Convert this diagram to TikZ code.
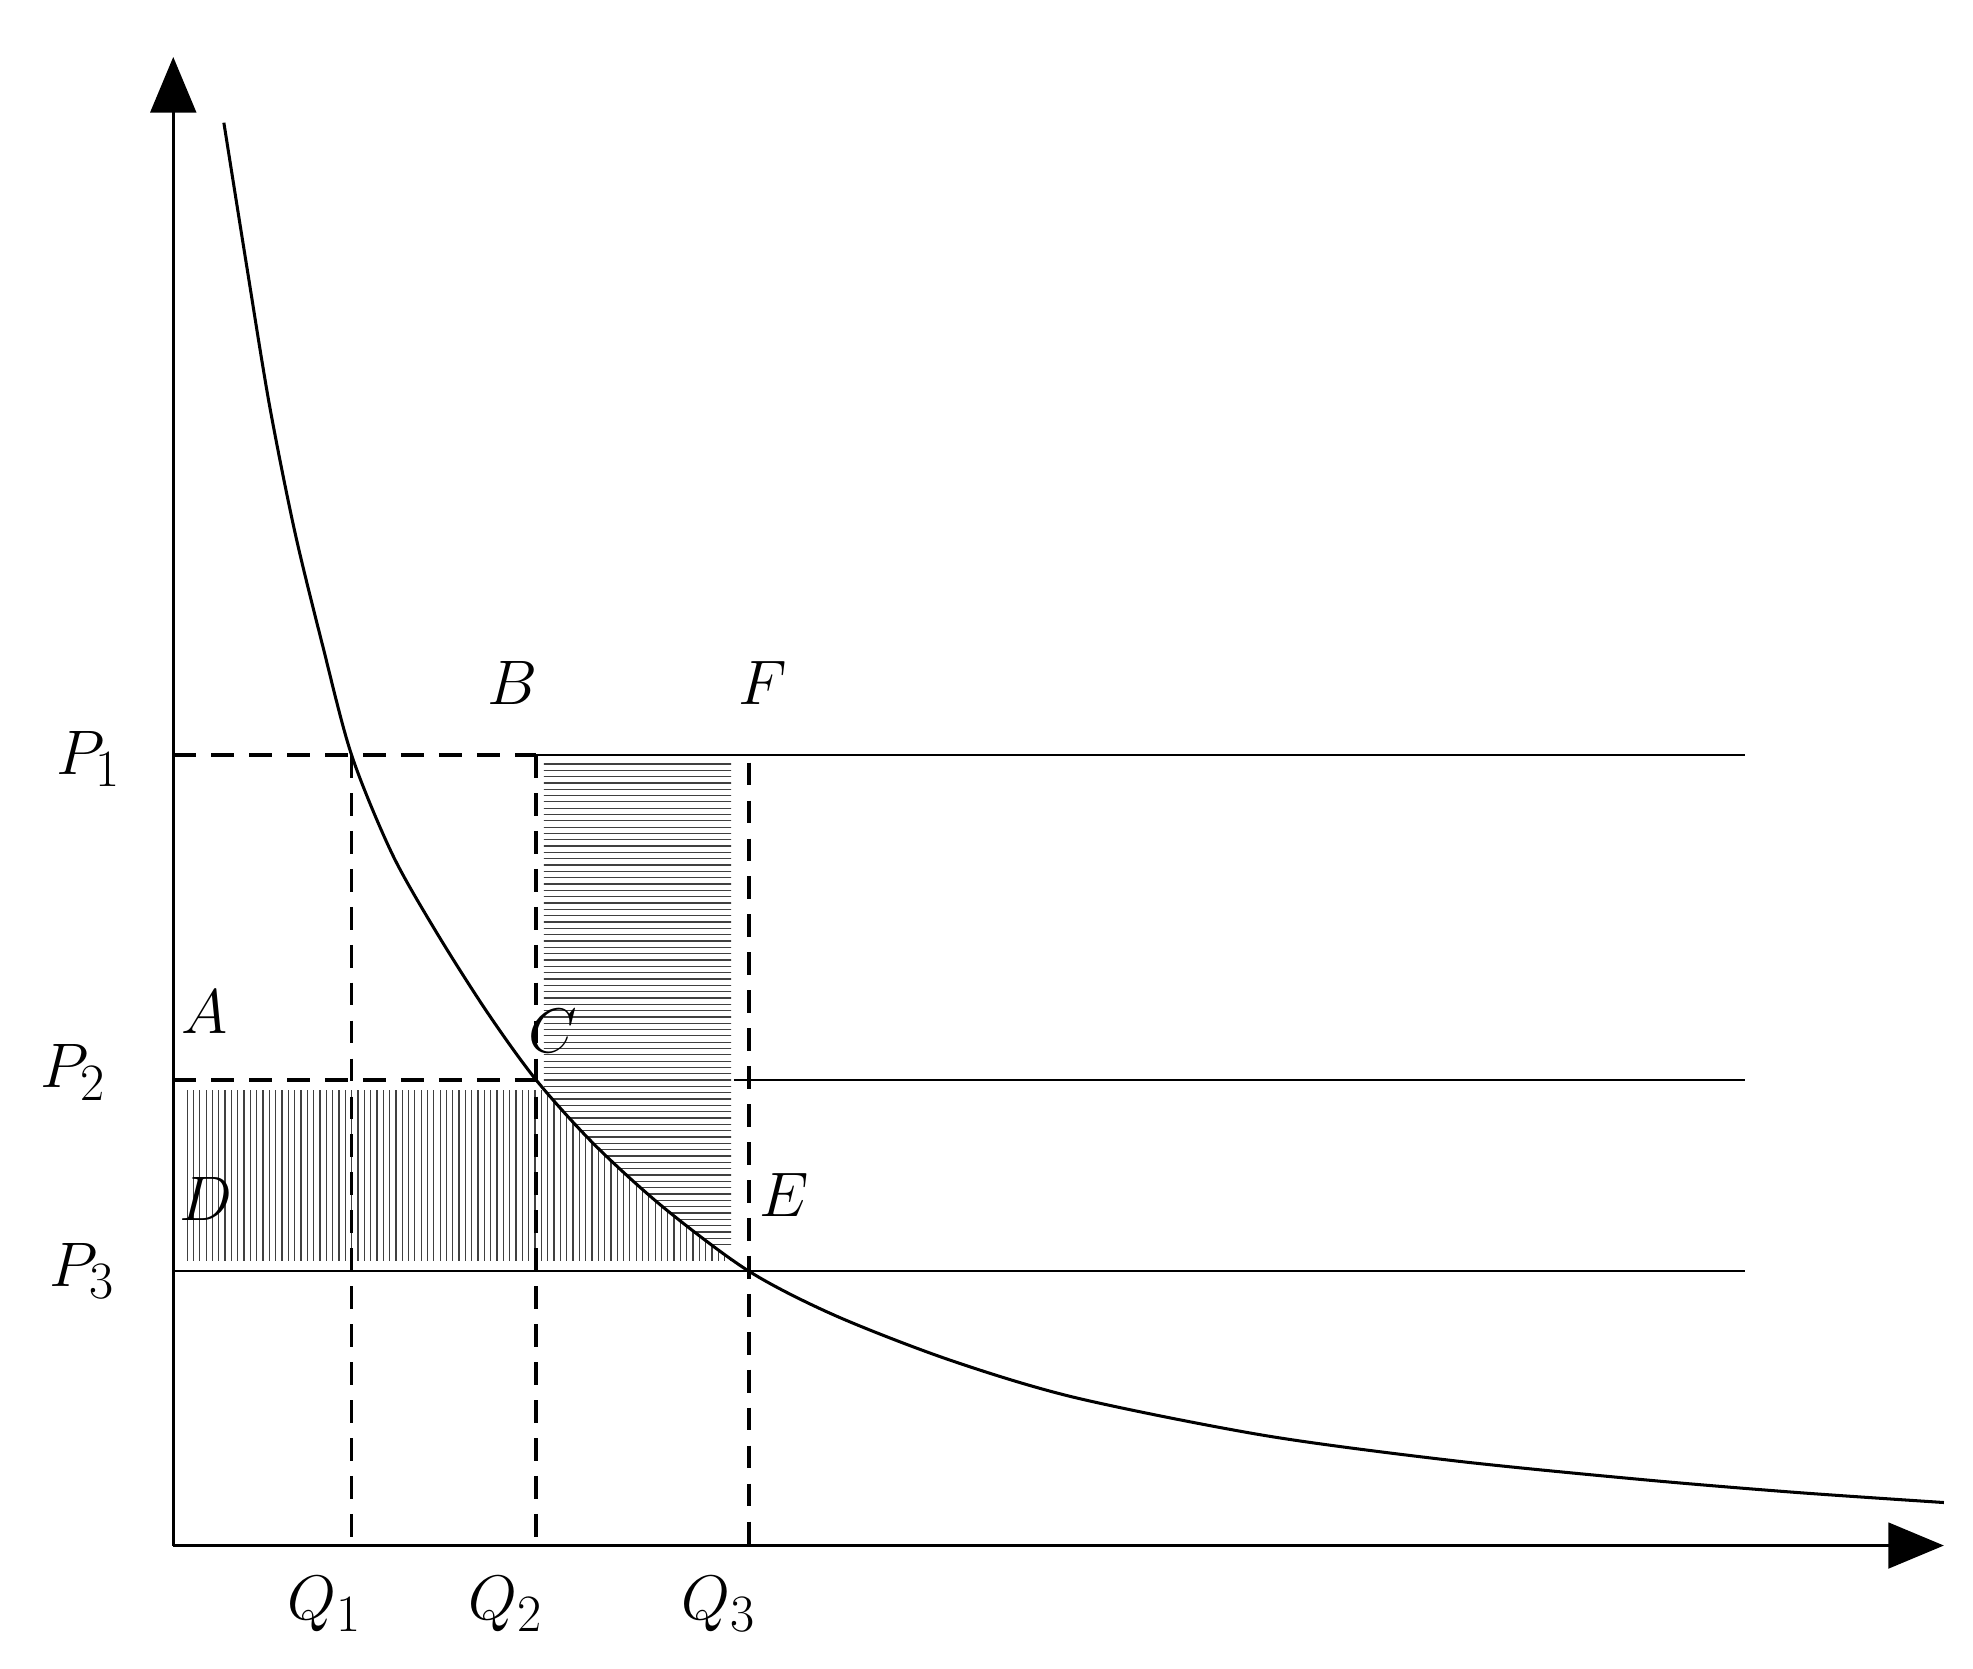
\documentclass[tikz,border=0pt]{standalone}
\usetikzlibrary{arrows.meta}
\begin{document}
\begin{tikzpicture}[x=0.5pt,y=-0.5pt,
  axis/.style={line width=1.4pt,-{Triangle[length=22pt,width=18pt]}},
  dline/.style={line width=1.4pt,dash pattern=on 9pt off 6pt},
  sline/.style={line width=1pt},
  hatch/.style={line width=0.5pt,black!75},
  lab/.style={font=\fontsize{30}{34}\selectfont}]
\useasboundingbox (0,0) rectangle (1560,1319);
\def\curvepts{(177,97) (195,210) (213,320) (233,420) (255,510) (278,597) (310,675) (345,737) (385,800) (424,854) (470,905) (525,955) (592,1005) (660,1040) (750,1075) (850,1105) (1000,1135) (1150,1155) (1300,1170) (1420,1180) (1537,1188)}
\coordinate (O) at (137,1222);
\coordinate (Ytop) at (137,45);
\coordinate (Xend) at (1537,1222);
\coordinate (p1) at (137,597); \coordinate (p2) at (137,854); \coordinate (p3) at (137,1005);
\coordinate (B) at (424,597); \coordinate (C) at (424,854); \coordinate (E) at (592,1005);
\coordinate (F) at (592,603);
\coordinate (q1) at (278,1222); \coordinate (q2) at (424,1222); \coordinate (q3) at (592,1222);
\coordinate (q1t) at (278,597);
\coordinate (r1) at (1380,597); \coordinate (r2) at (1380,854); \coordinate (r3) at (1380,1005);
\coordinate (m2) at (580,854);
% hatching left (vertical)
\begin{scope}
\clip (147,862) rectangle (585,997);
\clip plot[smooth] coordinates {\curvepts} -- (1537,1319) -- (0,1319) -- (0,97) -- cycle;
\foreach \x in {148,153,...,590} \draw[hatch] (\x,860) -- (\x,1000);
\end{scope}
% hatching right (horizontal)
\begin{scope}
\clip (430,603) rectangle (578,987);
\clip plot[smooth] coordinates {\curvepts} -- (1537,0) -- (177,0) -- cycle;
\foreach \y in {604,609,...,990} \draw[hatch] (428,\y) -- (580,\y);
\end{scope}
\draw[line width=1.2pt] plot[smooth] coordinates {\curvepts};
\draw[axis] (O) -- (Ytop);
\draw[axis] (O) -- (Xend);
\draw[dline] (p1) -- (B);
\draw[dline] (p2) -- (C);
\draw[dline] (q1t) -- (q1);
\draw[dline] (B) -- (q2);
\draw[dline] (F) -- (q3);
\draw[sline] (B) -- (r1);
\draw[sline] (m2) -- (r2);
\draw[sline] (p3) -- (r3);
\node[lab] (lP1) at (70,600) {$P_1$};
\node[lab] (lP2) at (58,848) {$P_2$};
\node[lab] (lP3) at (65,1005) {$P_3$};
\node[lab] (lA) at (162,800) {$A$};
\node[lab] (lB) at (405,540) {$B$};
\node[lab] (lF) at (603,540) {$F$};
\node[lab] (lC) at (437,815) {$C$};
\node[lab] (lD) at (163,948) {$D$};
\node[lab] (lE) at (620,945) {$E$};
\node[lab] (lQ1) at (257,1268) {$Q_1$};
\node[lab] (lQ2) at (400,1268) {$Q_2$};
\node[lab] (lQ3) at (568,1268) {$Q_3$};
\end{tikzpicture}
\end{document}
